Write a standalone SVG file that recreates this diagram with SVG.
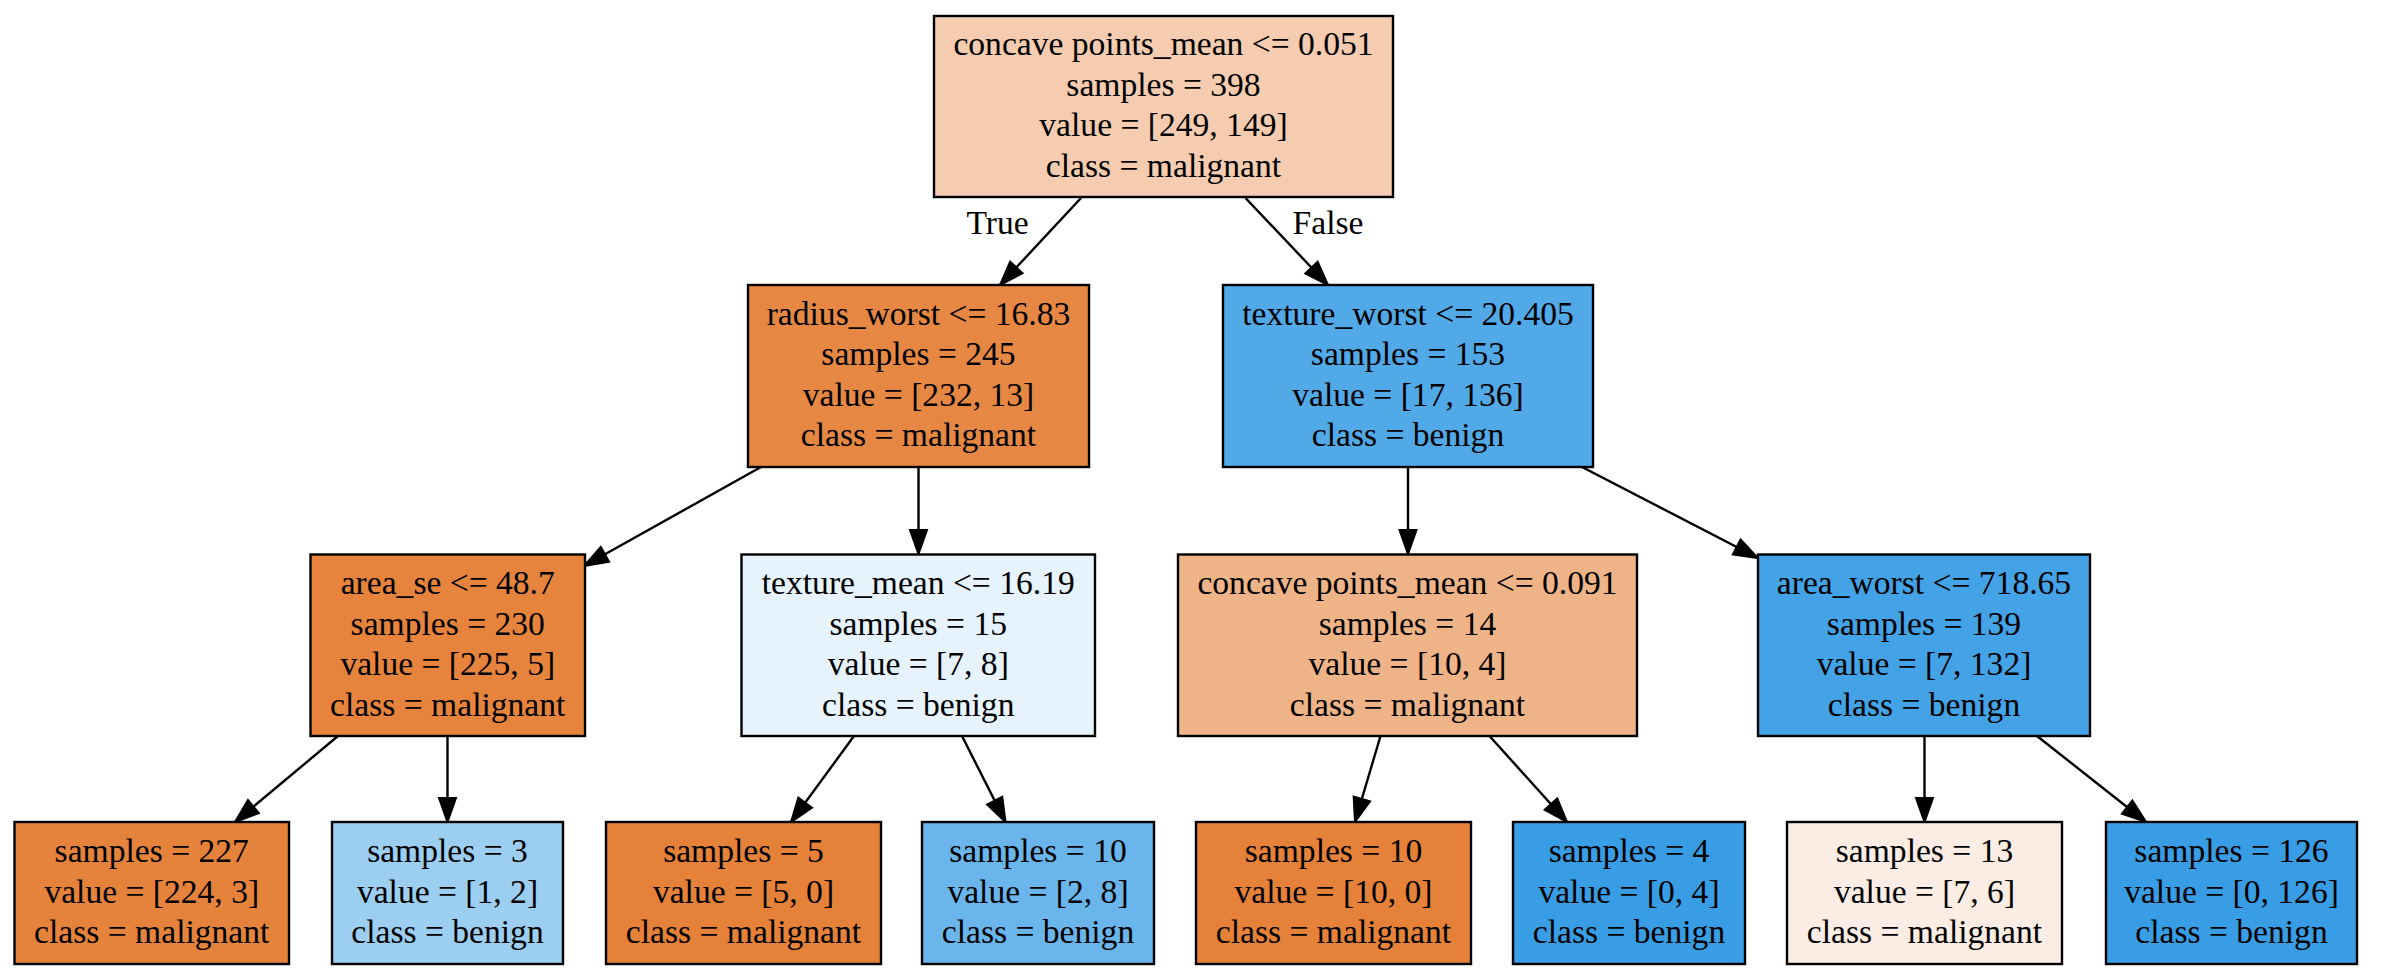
<svg xmlns="http://www.w3.org/2000/svg" width="2388" height="976" viewBox="0 0 2388 976">
<style>
.box{stroke:#000;stroke-width:2.4}
text{font-family:"Liberation Serif","Times New Roman",serif;font-size:33.6px;fill:#000;text-anchor:middle}
.edge{stroke:#000;stroke-width:2.4;fill:none;marker-end:url(#arr)}
</style>
<defs>
<marker id="arr" markerUnits="userSpaceOnUse" markerWidth="26" markerHeight="20" refX="24" refY="9" orient="auto" overflow="visible">
<path d="M0,0.5 L24,9 L0,17.5 z" fill="#000" stroke="#000" stroke-width="2"/>
</marker>
</defs>
<rect width="2388" height="976" fill="#fff"/>
<g id="connectors">
<line class="edge" x1="1081" y1="198" x2="1000" y2="285"/>
<line class="edge" x1="1245.5" y1="198" x2="1328" y2="285"/>
<line class="edge" x1="761" y1="467" x2="584" y2="566"/>
<line class="edge" x1="918.5" y1="467" x2="918.5" y2="554"/>
<line class="edge" x1="1408" y1="467" x2="1408" y2="554"/>
<line class="edge" x1="1582" y1="467" x2="1758" y2="558"/>
<line class="edge" x1="338" y1="736" x2="235" y2="822"/>
<line class="edge" x1="447.5" y1="736" x2="447.5" y2="822"/>
<line class="edge" x1="854" y1="736" x2="791" y2="822"/>
<line class="edge" x1="962" y1="736" x2="1005.5" y2="822"/>
<line class="edge" x1="1380.5" y1="736" x2="1355" y2="822"/>
<line class="edge" x1="1489.5" y1="736" x2="1567" y2="822"/>
<line class="edge" x1="1924.5" y1="736" x2="1924.5" y2="822"/>
<line class="edge" x1="2037" y1="736" x2="2146" y2="822"/>
<text x="997.5" y="234">True</text>
<text x="1328" y="234">False</text>
</g>
<g id="node0">
<rect class="box" x="934" y="16" width="459" height="181" fill="#f5ccb0"/>
<text x="1163.5" y="55.25">concave points_mean &lt;= 0.051</text>
<text x="1163.5" y="95.75">samples = 398</text>
<text x="1163.5" y="136.25">value = [249, 149]</text>
<text x="1163.5" y="176.75">class = malignant</text>
</g>
<g id="node1">
<rect class="box" x="748" y="285" width="341" height="182" fill="#e68844"/>
<text x="918.5" y="324.75">radius_worst &lt;= 16.83</text>
<text x="918.5" y="365.25">samples = 245</text>
<text x="918.5" y="405.75">value = [232, 13]</text>
<text x="918.5" y="446.25">class = malignant</text>
</g>
<g id="node8">
<rect class="box" x="1223" y="285" width="370" height="182" fill="#52a9e8"/>
<text x="1408" y="324.75">texture_worst &lt;= 20.405</text>
<text x="1408" y="365.25">samples = 153</text>
<text x="1408" y="405.75">value = [17, 136]</text>
<text x="1408" y="446.25">class = benign</text>
</g>
<g id="node2">
<rect class="box" x="310.5" y="554.5" width="274.5" height="181.5" fill="#e6843d"/>
<text x="447.75" y="594">area_se &lt;= 48.7</text>
<text x="447.75" y="634.5">samples = 230</text>
<text x="447.75" y="675">value = [225, 5]</text>
<text x="447.75" y="715.5">class = malignant</text>
</g>
<g id="node5">
<rect class="box" x="741.5" y="554.5" width="353.5" height="181.5" fill="#e6f3fc"/>
<text x="918.25" y="594">texture_mean &lt;= 16.19</text>
<text x="918.25" y="634.5">samples = 15</text>
<text x="918.25" y="675">value = [7, 8]</text>
<text x="918.25" y="715.5">class = benign</text>
</g>
<g id="node9">
<rect class="box" x="1178" y="554.5" width="459" height="181.5" fill="#efb388"/>
<text x="1407.5" y="594">concave points_mean &lt;= 0.091</text>
<text x="1407.5" y="634.5">samples = 14</text>
<text x="1407.5" y="675">value = [10, 4]</text>
<text x="1407.5" y="715.5">class = malignant</text>
</g>
<g id="node12">
<rect class="box" x="1758" y="554.5" width="332" height="181.5" fill="#44a2e6"/>
<text x="1924" y="594">area_worst &lt;= 718.65</text>
<text x="1924" y="634.5">samples = 139</text>
<text x="1924" y="675">value = [7, 132]</text>
<text x="1924" y="715.5">class = benign</text>
</g>
<g id="node3">
<rect class="box" x="14.5" y="822" width="274.5" height="142" fill="#e5833c"/>
<text x="151.75" y="862">samples = 227</text>
<text x="151.75" y="902.5">value = [224, 3]</text>
<text x="151.75" y="943">class = malignant</text>
</g>
<g id="node4">
<rect class="box" x="332" y="822" width="231" height="142" fill="#9ccef2"/>
<text x="447.5" y="862">samples = 3</text>
<text x="447.5" y="902.5">value = [1, 2]</text>
<text x="447.5" y="943">class = benign</text>
</g>
<g id="node6">
<rect class="box" x="606" y="822" width="275" height="142" fill="#e58139"/>
<text x="743.5" y="862">samples = 5</text>
<text x="743.5" y="902.5">value = [5, 0]</text>
<text x="743.5" y="943">class = malignant</text>
</g>
<g id="node7">
<rect class="box" x="922" y="822" width="232" height="142" fill="#6ab6ec"/>
<text x="1038" y="862">samples = 10</text>
<text x="1038" y="902.5">value = [2, 8]</text>
<text x="1038" y="943">class = benign</text>
</g>
<g id="node10">
<rect class="box" x="1196" y="822" width="275" height="142" fill="#e58139"/>
<text x="1333.5" y="862">samples = 10</text>
<text x="1333.5" y="902.5">value = [10, 0]</text>
<text x="1333.5" y="943">class = malignant</text>
</g>
<g id="node11">
<rect class="box" x="1513" y="822" width="232" height="142" fill="#399de5"/>
<text x="1629" y="862">samples = 4</text>
<text x="1629" y="902.5">value = [0, 4]</text>
<text x="1629" y="943">class = benign</text>
</g>
<g id="node13">
<rect class="box" x="1787" y="822" width="275" height="142" fill="#fbede3"/>
<text x="1924.5" y="862">samples = 13</text>
<text x="1924.5" y="902.5">value = [7, 6]</text>
<text x="1924.5" y="943">class = malignant</text>
</g>
<g id="node14">
<rect class="box" x="2106" y="822" width="251" height="142" fill="#399de5"/>
<text x="2231.5" y="862">samples = 126</text>
<text x="2231.5" y="902.5">value = [0, 126]</text>
<text x="2231.5" y="943">class = benign</text>
</g>
</svg>
